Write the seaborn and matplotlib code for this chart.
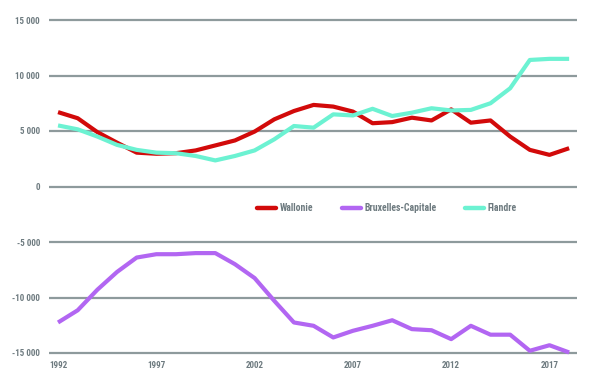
import numpy as np
import pandas as pd
import matplotlib
matplotlib.use("Agg")
import matplotlib.pyplot as plt
import seaborn as sns

years = list(range(1992, 2019))
wallonie = [6700, 6150, 4900, 3950, 3050, 2950, 3000, 3250, 3700, 4150, 4950, 6050, 6800,
            7350, 7200, 6750, 5700, 5800, 6200, 5950, 6950, 5750, 5950, 4500, 3300, 2850, 3450]
bruxelles = [-12250, -11150, -9300, -7700, -6400, -6100, -6100, -6000, -6000, -7000, -8250, -10300, -12250,
             -12550, -13600, -13000, -12550, -12050, -12850, -12950, -13750, -12550, -13350, -13350, -14800, -14300, -14950]
flandre = [5500, 5150, 4500, 3750, 3300, 3050, 3000, 2750, 2350, 2750, 3250, 4250, 5450,
           5300, 6500, 6400, 7000, 6350, 6650, 7050, 6850, 6900, 7500, 8850, 11400, 11500, 11500]
series_names = ["Wallonie", "Bruxelles-Capitale", "Flandre"]
colors = ["#d20a0a", "#b266f2", "#6cf2d2"]
yticks = [-15000, -10000, -5000, 0, 5000, 10000, 15000]
ytick_labels = ["-15 000", "-10 000", "-5 000", "0", "5 000", "10 000", "15 000"]
xticks = [1992, 1997, 2002, 2007, 2012, 2017]

df = pd.DataFrame({"year": years, "Wallonie": wallonie,
                   "Bruxelles-Capitale": bruxelles, "Flandre": flandre})
long = df.melt(id_vars="year", var_name="region", value_name="value")

sns.set_style("white")
plt.rcParams["font.family"] = ["Roboto Condensed", "DejaVu Sans"]

fig = plt.figure(figsize=(5.9, 3.87), dpi=100)
ax = fig.add_axes([49/590, 1 - 353/387, (577-49)/590, (353-20)/387])

for v in yticks:
    ax.axhline(v, color="#8e9a9c", lw=1.6, zorder=1)

sns.lineplot(data=long, x="year", y="value", hue="region", hue_order=series_names,
             palette=colors, lw=3.0, ax=ax, legend=True, zorder=3)
for ln in ax.get_lines():
    ln.set_clip_on(False)
    ln.set_solid_capstyle("butt")

ax.set_xlim(1991.54, 2018.4)
ax.set_ylim(-15000, 15000)
ax.set_yticks(yticks)
ax.set_yticklabels(ytick_labels)
ax.set_xticks(xticks)
ax.set_xticklabels([str(x) for x in xticks])
ax.tick_params(axis="both", length=0, labelsize=6.5, colors="#6e7b80")
ax.tick_params(axis="y", pad=6.5)
ax.tick_params(axis="x", pad=6)
for lab in ax.get_xticklabels() + ax.get_yticklabels():
    lab.set_fontweight("bold")
for s in ax.spines.values():
    s.set_visible(False)
ax.set_xlabel("")
ax.set_ylabel("")

leg = ax.legend(loc="center", bbox_to_anchor=((387-49)/528, (353-208)/333), ncol=3, frameon=False,
                handlelength=1.95, handletextpad=0.4, columnspacing=2.9,
                prop={"weight": "bold", "size": 7})
for t in leg.get_texts():
    t.set_color("#6e7b80")
for h in leg.legend_handles:
    h.set_linewidth(3.2)
    h.set_solid_capstyle("round")

fig.savefig("out.png", dpi=100, facecolor="white")
